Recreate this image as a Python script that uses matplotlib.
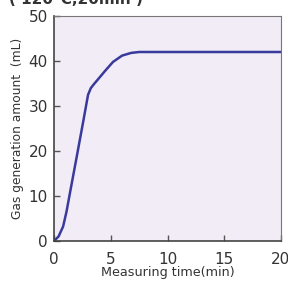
import matplotlib
matplotlib.use("Agg")
import matplotlib.pyplot as plt

time_min = [0, 0.4, 0.8, 1.1, 1.4, 2.0, 2.6, 3.0, 3.25, 3.5, 4.0, 4.5, 5.2, 6.0, 6.8, 7.5, 8.0, 20]
gas_ml = [0, 1.0, 3.2, 6.5, 10.6, 18.7, 26.9, 32.5, 34.0, 34.8, 36.3, 37.8, 39.8, 41.2, 41.8, 42, 42, 42]

xticks = [0, 5, 10, 15, 20]
yticks = [0, 10, 20, 30, 40, 50]

plt.rcParams['font.family'] = ['DejaVu Sans']

fig = plt.figure(figsize=(2.88, 2.82), dpi=100)
ax = fig.add_axes([54/288, 1-241/282, (281-54)/288, (241-16)/282])
ax.set_facecolor('#f1ecf5')
ax.plot(time_min, gas_ml, color='#3a3a9c', lw=1.8, solid_capstyle='round', solid_joinstyle='round')
ax.set_xlim(0, 20)
ax.set_ylim(0, 50)
ax.set_xticks(xticks)
ax.set_yticks(yticks)
ax.tick_params(direction='in', length=4, width=1, color='#555555', labelsize=11, labelcolor='#333333')
ax.tick_params(axis='x', pad=8)
ax.tick_params(axis='y', pad=4.5)
for s in ['left', 'bottom']:
    ax.spines[s].set_color('#444444')
    ax.spines[s].set_linewidth(1.2)
for s in ['top', 'right']:
    ax.spines[s].set_color('#777777')
    ax.spines[s].set_linewidth(0.8)
ax.set_xlabel('Measuring time(min)', fontsize=9.2, color='#333333', labelpad=-1)
ax.set_ylabel('Gas generation amount  (mL)', fontsize=8.8, color='#333333', labelpad=3)
fig.text(0.03, 1.0, '( 120°C,20min )', fontsize=11, fontweight='bold', color='#333333', va='center', ha='left')
fig.savefig('out.png', dpi=100)
